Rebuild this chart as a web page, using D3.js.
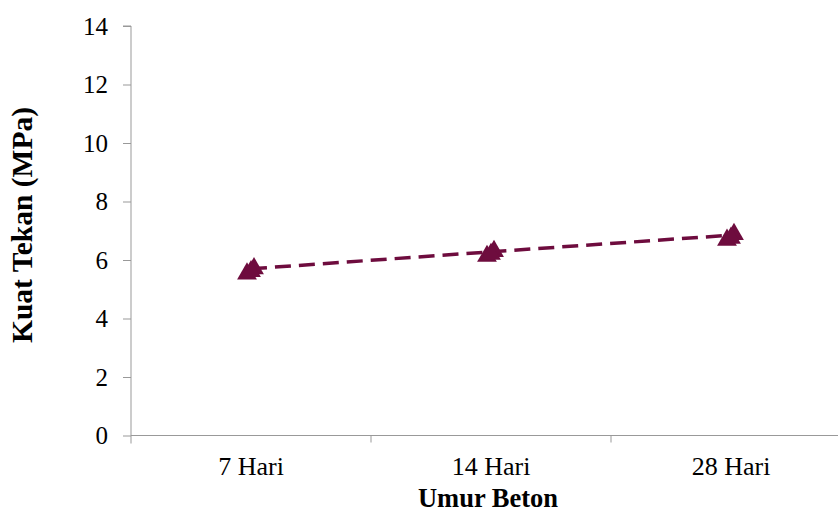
<!DOCTYPE html>
<html><head><meta charset="utf-8">
<script src="https://cdn.jsdelivr.net/npm/d3@7"></script>
<style>body{margin:0;background:#fff}svg{display:block}</style>
</head><body>
<script>
const categories = ["7 Hari", "14 Hari", "28 Hari"];
const samples = [[5.6, 5.78, 5.68], [6.2, 6.37, 6.27], [6.75, 6.95, 6.82]];
const meanValues = [5.7, 6.28, 6.85];
const yTicks = [0, 2, 4, 6, 8, 10, 12, 14];
const xTitle = "Umur Beton";
const yTitle = "Kuat Tekan (MPa)";

const W = 838, H = 513;
const svg = d3.select("body").append("svg").attr("width", W).attr("height", H);
const color = "#6e0c3e";
const axisColor = "#999";
const font = "'Liberation Serif', 'Times New Roman', serif";

const x = d3.scaleBand().domain(categories).range([131, 851]);
const y = d3.scaleLinear().domain([0, 14]).range([435.5, 26]);

// y axis
const yAxis = svg.append("g").attr("transform", "translate(131,0)")
  .call(d3.axisLeft(y).tickValues(yTicks).tickSize(8).tickPadding(15));
yAxis.select(".domain").attr("stroke", axisColor).attr("d", `M-8,${y(14)}H0V${y(0)+8}`);
yAxis.selectAll(".tick line").attr("stroke", axisColor);
yAxis.selectAll(".tick text").attr("font-family", font).attr("font-size", 25).attr("fill", "#000");

// x axis
const xAxis = svg.append("g").attr("transform", `translate(0,${y(0)})`)
  .call(d3.axisBottom(x).tickSize(0).tickPadding(21));
xAxis.select(".domain").attr("stroke", axisColor).attr("d", `M131,0H${W}`);
xAxis.selectAll(".tick text").attr("font-family", font).attr("font-size", 26).attr("fill", "#000");
const edges = categories.map(c => x(c)).slice(1);
xAxis.selectAll(".edge").data(edges).enter().append("line")
  .attr("x1", d => d).attr("x2", d => d).attr("y1", 0).attr("y2", 7)
  .attr("stroke", axisColor);

// dashed line through means
const line = d3.line().x((d, i) => x(categories[i]) + x.bandwidth() / 2).y(d => y(d));
svg.append("path").datum(meanValues).attr("d", line)
  .attr("fill", "none").attr("stroke", color).attr("stroke-width", 3.5)
  .attr("stroke-dasharray", "16,8");

// triangle markers
const tri = d3.symbol().type(d3.symbolTriangle).size(170);
const offs = [-4, 3, 0];
categories.forEach((c, i) => {
  samples[i].forEach((v, j) => {
    svg.append("path").attr("d", tri)
      .attr("transform", `translate(${x(c) + x.bandwidth() / 2 + offs[j]},${y(v) + 2})`)
      .attr("fill", color);
  });
});

// titles
svg.append("text").attr("x", 488).attr("y", 507).attr("text-anchor", "middle")
  .attr("font-family", font).attr("font-size", 26.5).attr("font-weight", "bold").text(xTitle);
svg.append("text").attr("transform", "translate(31.5,225) rotate(-90)").attr("text-anchor", "middle")
  .attr("font-family", font).attr("font-size", 29.5).attr("font-weight", "bold").text(yTitle);
</script>
</body></html>
